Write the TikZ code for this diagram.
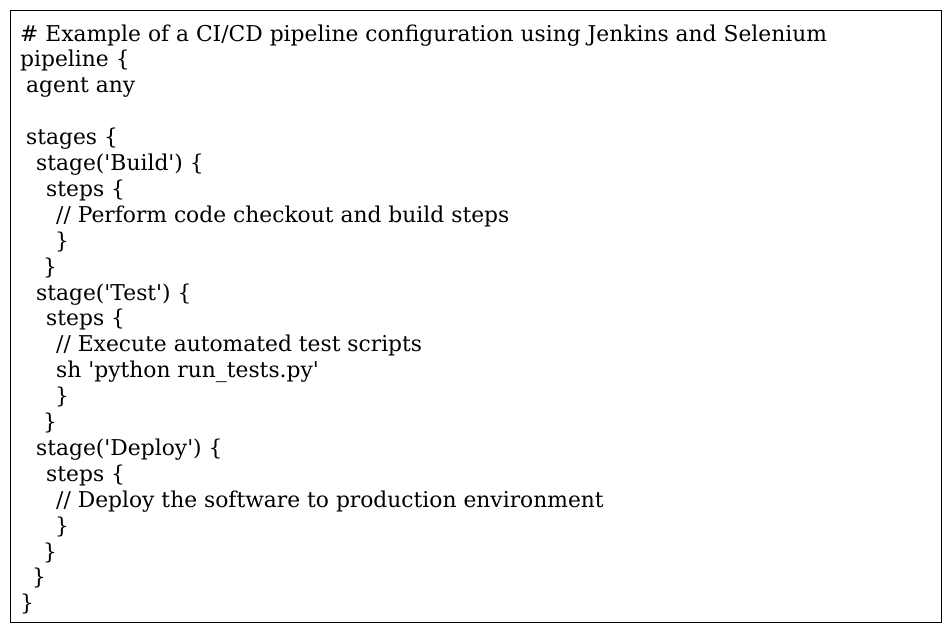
\documentclass[tikz,border=0pt]{standalone}
\usepackage{fontspec}
\setmainfont{DejaVu Serif}
\newcommand{\sq}{\textquotesingle}
\begin{document}
\begin{tikzpicture}[x=1pt,y=-1pt,
  codeline/.style={anchor=base west,inner sep=0pt,font=\fontsize{21.8}{24}\selectfont}]
\useasboundingbox (0,0) rectangle (951,632);
\node[draw,line width=1.2pt,minimum width=931pt,minimum height=612pt,anchor=north west,inner sep=0pt] (frame) at (10,10) {};
\def\lh{25.9}
\foreach \ind/\n/\t in {
 20/1/{\# Example of a CI/CD pipeline configuration using Jenkins and Selenium},
 20/2/{pipeline \{},
 26/3/{agent any},
 26/5/{stages \{},
 36/6/{stage(\sq Build\sq) \{},
 46/7/{steps \{},
 56/8/{// Perform code checkout and build steps},
 55/9/{\}},
 43/10/{\}},
 36/11/{stage(\sq Test\sq) \{},
 46/12/{steps \{},
 56/13/{// Execute automated test scripts},
 56/14/{sh \sq python run\_tests.py\sq},
 55/15/{\}},
 43/16/{\}},
 36/17/{stage(\sq Deploy\sq) \{},
 46/18/{steps \{},
 56/19/{// Deploy the software to production environment},
 55/20/{\}},
 43/21/{\}},
 32/22/{\}},
 20/23/{\}}}
 { \node[codeline] (l\n) at (\ind, 41+\lh*\n-\lh) {\t}; }
\end{tikzpicture}
\end{document}
